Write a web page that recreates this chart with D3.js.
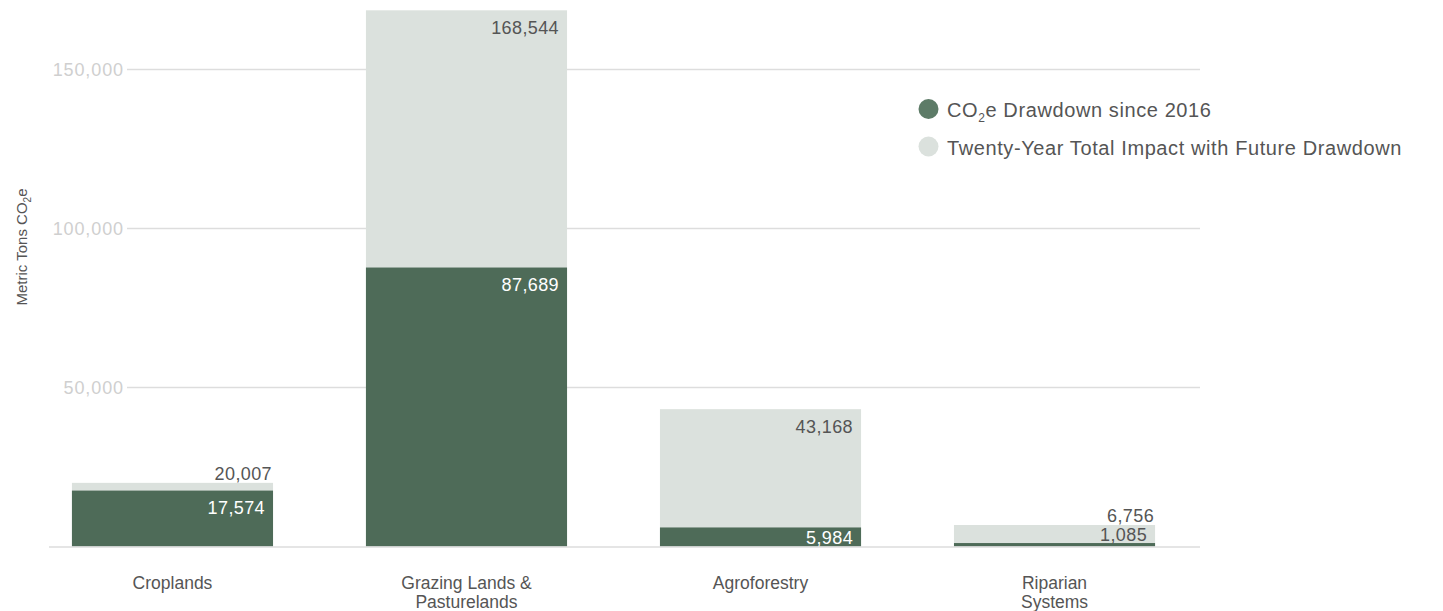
<!DOCTYPE html>
<html>
<head>
<meta charset="utf-8">
<script src="https://cdn.jsdelivr.net/npm/d3@7"></script>
<style>
  html, body { margin: 0; padding: 0; background: #fff; }
  svg { display: block; font-family: "Liberation Sans", Arial, Helvetica, sans-serif; }
</style>
</head>
<body>
<svg id="chart" width="1443" height="611"></svg>
<script>
const categories = ["Croplands", "Grazing Lands & Pasturelands", "Agroforestry", "Riparian Systems"];
const categoryLines = [["Croplands"], ["Grazing Lands &", "Pasturelands"], ["Agroforestry"], ["Riparian", "Systems"]];
const drawdownSince2016 = [17574, 87689, 5984, 1085];
const twentyYearTotal = [20007, 168544, 43168, 6756];
const yTicks = [50000, 100000, 150000];
const seriesNames = ["Drawdown since 2016", "Twenty-Year Total Impact with Future Drawdown"];

const DARK = "#4e6b58", LIGHT = "#dbe1dd", TEXT = "#555", TICK = "#cfcfcf", GRID = "#dddddd";

const svg = d3.select("#chart");
const fmt = d3.format(",");

const x = d3.scaleBand().domain(categories).range([49, 1178]).paddingInner(0.316).paddingOuter(0.078);
const y = d3.scaleLinear().domain([0, 150000]).range([546.5, 69.3]);

// gridlines + tick labels
const yAxis = d3.axisLeft(y).tickValues(yTicks).tickSize(0).tickFormat(fmt);
const gAxis = svg.append("g").attr("transform", "translate(124,0)").call(yAxis);
gAxis.select(".domain").remove();
gAxis.selectAll("text").attr("fill", TICK).attr("font-size", 18).attr("letter-spacing", 0.9)
  .attr("x", 0).attr("dy", "0.36em").attr("font-family", "Liberation Sans, Arial, sans-serif");
svg.append("g").selectAll("line").data(yTicks).join("line")
  .attr("x1", 127).attr("x2", 1200).attr("y1", d => Math.round(y(d)) + 0.5).attr("y2", d => Math.round(y(d)) + 0.5)
  .attr("stroke", GRID).attr("stroke-width", 1.5);

// light bars (total)
svg.append("g").selectAll("rect").data(categories).join("rect")
  .attr("x", d => x(d)).attr("width", x.bandwidth())
  .attr("y", (d, i) => y(twentyYearTotal[i])).attr("height", (d, i) => y(0) - y(twentyYearTotal[i]))
  .attr("fill", LIGHT);
// dark bars
svg.append("g").selectAll("rect").data(categories).join("rect")
  .attr("x", d => x(d)).attr("width", x.bandwidth())
  .attr("y", (d, i) => y(drawdownSince2016[i])).attr("height", (d, i) => y(0) - y(drawdownSince2016[i]))
  .attr("fill", DARK);

// baseline
svg.append("line").attr("x1", 49).attr("x2", 1200).attr("y1", y(0) + 0.5).attr("y2", y(0) + 0.5)
  .attr("stroke", GRID).attr("stroke-width", 1.5);

// value labels
const lab = svg.append("g").attr("font-size", 18).attr("letter-spacing", 0.4).attr("text-anchor", "end");
categories.forEach((c, i) => {
  const right = x(c) + x.bandwidth() - 8;
  const tTop = y(twentyYearTotal[i]), dTop = y(drawdownSince2016[i]);
  const tInside = (dTop - tTop) >= 30;
  lab.append("text").attr("x", tInside ? right : x(c) + x.bandwidth() - 1)
    .attr("y", tInside ? tTop + 24 : tTop - 3)
    .attr("fill", TEXT).text(fmt(twentyYearTotal[i]));
  const dInside = (y(0) - dTop) >= 15;
  lab.append("text").attr("x", right)
    .attr("y", dInside ? Math.min(dTop + 23, y(0) - 3) : dTop - 2)
    .attr("fill", dInside ? "#fff" : TEXT).text(fmt(drawdownSince2016[i]));
});

// category labels
svg.append("g").selectAll("text").data(categories).join("text")
  .attr("x", d => x(d) + x.bandwidth() / 2).attr("y", 589)
  .attr("text-anchor", "middle").attr("font-size", 17.5).attr("fill", TEXT)
  .each(function(d, i) {
    d3.select(this).selectAll("tspan").data(categoryLines[i]).join("tspan")
      .attr("x", x(d) + x.bandwidth() / 2).attr("dy", (t, j) => j === 0 ? 0 : 18.5).text(t => t);
  });

// y axis title
const yt = svg.append("text").attr("transform", "translate(27,247) rotate(-90)")
  .attr("text-anchor", "middle").attr("font-size", 15).attr("fill", TEXT);
yt.append("tspan").text("Metric Tons CO");
yt.append("tspan").attr("font-size", 10).attr("dy", 4).text("2");
yt.append("tspan").attr("dy", -4).text("e");

// legend
const leg = svg.append("g");
const legColors = ["#5d7b67", LIGHT];
[0, 1].forEach(i => {
  const cy = 109 + i * 37.5;
  leg.append("circle").attr("cx", 928.5).attr("cy", cy).attr("r", 10).attr("fill", legColors[i]);
  const t = leg.append("text").attr("x", 947).attr("y", cy + 8).attr("font-size", 20).attr("letter-spacing", 0.6).attr("fill", TEXT);
  if (i === 0) {
    t.append("tspan").text("CO");
    t.append("tspan").attr("font-size", 12).attr("dy", 5).text("2");
    t.append("tspan").attr("dy", -5).text("e " + seriesNames[0]);
  } else {
    t.text(seriesNames[1]);
  }
});
</script>
</body>
</html>
